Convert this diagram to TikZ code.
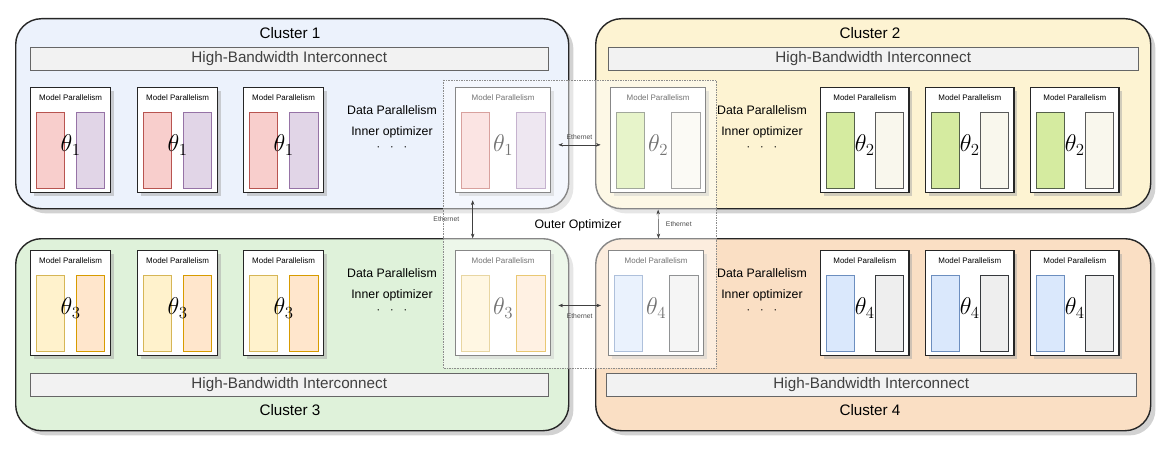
\documentclass[tikz,border=0pt]{standalone}
\usepackage{fontspec}
\setmainfont{Liberation Sans}
\usepackage{tikz}
\usetikzlibrary{arrows.meta,positioning,shadows}

\definecolor{redF}{HTML}{F8CECC}\definecolor{redD}{HTML}{B85450}
\definecolor{purF}{HTML}{E1D5E7}\definecolor{purD}{HTML}{9673A6}
\definecolor{grnF}{HTML}{D5EBA0}\definecolor{grnD}{HTML}{55604A}
\definecolor{offF}{HTML}{F9F7ED}\definecolor{offD}{HTML}{5A5A5A}
\definecolor{yelF}{HTML}{FFF2CC}\definecolor{yelD}{HTML}{D6B656}
\definecolor{orgF}{HTML}{FFE6CC}\definecolor{orgD}{HTML}{D79B00}
\definecolor{bluF}{HTML}{DAE8FC}\definecolor{bluD}{HTML}{6C8EBF}
\definecolor{gryF}{HTML}{EEEEEE}\definecolor{gryD}{HTML}{36393D}
\definecolor{cA}{HTML}{ECF2FC}\definecolor{cB}{HTML}{FDF3D2}
\definecolor{cC}{HTML}{DFF2DA}\definecolor{cD}{HTML}{FADFC4}

% one model-parallel box: name, x, y, width, left style, right style, index
\newcommand{\mpbox}[7]{%
  \node[mp, minimum width=#4] (#1) at (#2,#3) {};
  \node[anchor=north, font=\fontsize{6.8}{7}\selectfont] at ([yshift=-3]#1.north) {Model Parallelism};
  \node[rect, #5, anchor=north west] at ([xshift=5,yshift=-21]#1.north west) {};
  \node[rect, #6, anchor=north east] at ([xshift=-5,yshift=-21]#1.north east) {};
  \node[font=\huge] at ([yshift=-4]#1.center) {$\theta_{#7}$};}

\begin{document}
\begin{tikzpicture}[x=0.03cm, y=-0.03cm]
\tikzstyle{cluster} = [draw=black!85, line width=1.2pt, rounded corners=22, anchor=north west,
  drop shadow={shadow xshift=4pt, shadow yshift=-4pt, fill=black!35}]
\tikzstyle{bar} = [draw=black!60, fill=black!5, anchor=north west,
  minimum height=0.69cm, font=\fontsize{13}{14}\selectfont, text=black!75]
\tikzstyle{mp} = [draw=black!85, line width=1.1pt, fill=white, anchor=north west,
  minimum height=3.15cm, drop shadow={shadow xshift=2.5pt, shadow yshift=-2.5pt, fill=black!35}]
\tikzstyle{rect} = [draw, thick, minimum width=0.85cm, minimum height=2.3cm]
\tikzstyle{title} = [font=\fontsize{13}{14}\selectfont]
\tikzstyle{dp} = [align=center, font=\fontsize{10.5}{18}\selectfont]
\tikzstyle{eth} = [font=\fontsize{5.8}{6}\selectfont, text=black!70]
\tikzstyle{link} = [{Stealth[length=4pt]}-{Stealth[length=4pt]}, black!75]

\useasboundingbox (0,0) rectangle (1168,454);

% clusters
\node[cluster, fill=cA, minimum width=16.59cm, minimum height=5.7cm] (c1) at (15,18) {};
\node[cluster, fill=cB, minimum width=16.65cm, minimum height=5.7cm] (c2) at (595,18) {};
\node[cluster, fill=cC, minimum width=16.59cm, minimum height=5.76cm] (c3) at (15,238) {};
\node[cluster, fill=cD, minimum width=16.65cm, minimum height=5.76cm] (c4) at (595,238) {};
\node[title] at (290,33) {Cluster 1};
\node[title] at (870,33) {Cluster 2};
\node[title] at (290,410) {Cluster 3};
\node[title] at (870,410) {Cluster 4};

\node[bar, minimum width=15.54cm] (hb1) at (30,47) {High-Bandwidth Interconnect};
\node[bar, minimum width=15.9cm] (hb2) at (608,47) {High-Bandwidth Interconnect};
\node[bar, minimum width=15.54cm] (hb3) at (30,373) {High-Bandwidth Interconnect};
\node[bar, minimum width=15.9cm] (hb4) at (606,373) {High-Bandwidth Interconnect};

% model boxes
\foreach \x [count=\i] in {30,137,243}{
  \mpbox{a\i}{\x}{87}{2.4cm}{fill=redF, draw=redD}{fill=purF, draw=purD}{1}
  \mpbox{c\i}{\x}{250}{2.4cm}{fill=yelF, draw=yelD}{fill=orgF, draw=orgD}{3}}
\foreach \x [count=\i] in {820,925,1030}{
  \mpbox{b\i}{\x}{87}{2.65cm}{fill=grnF, draw=grnD}{fill=offF, draw=offD}{2}
  \mpbox{d\i}{\x}{250}{2.65cm}{fill=bluF, draw=bluD}{fill=gryF, draw=gryD}{4}}
\mpbox{af}{455}{87}{2.85cm}{fill=redF, draw=redD}{fill=purF, draw=purD}{1}
\mpbox{cf}{455}{250}{2.85cm}{fill=yelF, draw=yelD}{fill=orgF, draw=orgD}{3}
\mpbox{bf}{610}{87}{2.85cm}{fill=grnF, draw=grnD}{fill=offF, draw=offD}{2}
\mpbox{df}{608}{250}{2.85cm}{fill=bluF, draw=bluD}{fill=gryF, draw=gryD}{4}

\node[dp] at (392,128) {Data Parallelism\\Inner optimizer\\[-5pt]$\cdot\;\;\cdot\;\;\cdot$};
\node[dp] at (762,128) {Data Parallelism\\Inner optimizer\\[-5pt]$\cdot\;\;\cdot\;\;\cdot$};
\node[dp] at (392,291) {Data Parallelism\\Inner optimizer\\[-5pt]$\cdot\;\;\cdot\;\;\cdot$};
\node[dp] at (762,291) {Data Parallelism\\Inner optimizer\\[-5pt]$\cdot\;\;\cdot\;\;\cdot$};

% outer optimizer region
\fill[white, opacity=0.45] (443,80) rectangle (716,368);
\draw[black!45, densely dotted] (443,80) rectangle (716,368);

\draw[link] ([xshift=6,yshift=-4]af.east) -- ([xshift=-8,yshift=-4]bf.west)
  node[midway, above=1pt, eth] {Ethernet};
\draw[link] ([xshift=6,yshift=-2]cf.east) -- ([xshift=-6,yshift=-2]df.west)
  node[midway, below=3pt, eth] {Ethernet};
\draw[link] ([xshift=-26,yshift=-6]af.south) -- ([xshift=-26,yshift=10]cf.north)
  node[midway, left=8pt, eth] {Ethernet};
\draw[link] ([xshift=0,yshift=-14]bf.south) -- ([xshift=2,yshift=10]df.north)
  node[midway, right=3pt, eth] {Ethernet};
\node[font=\fontsize{10.5}{12}\selectfont] (outer) at (578,225) {Outer Optimizer};
\end{tikzpicture}
\end{document}
